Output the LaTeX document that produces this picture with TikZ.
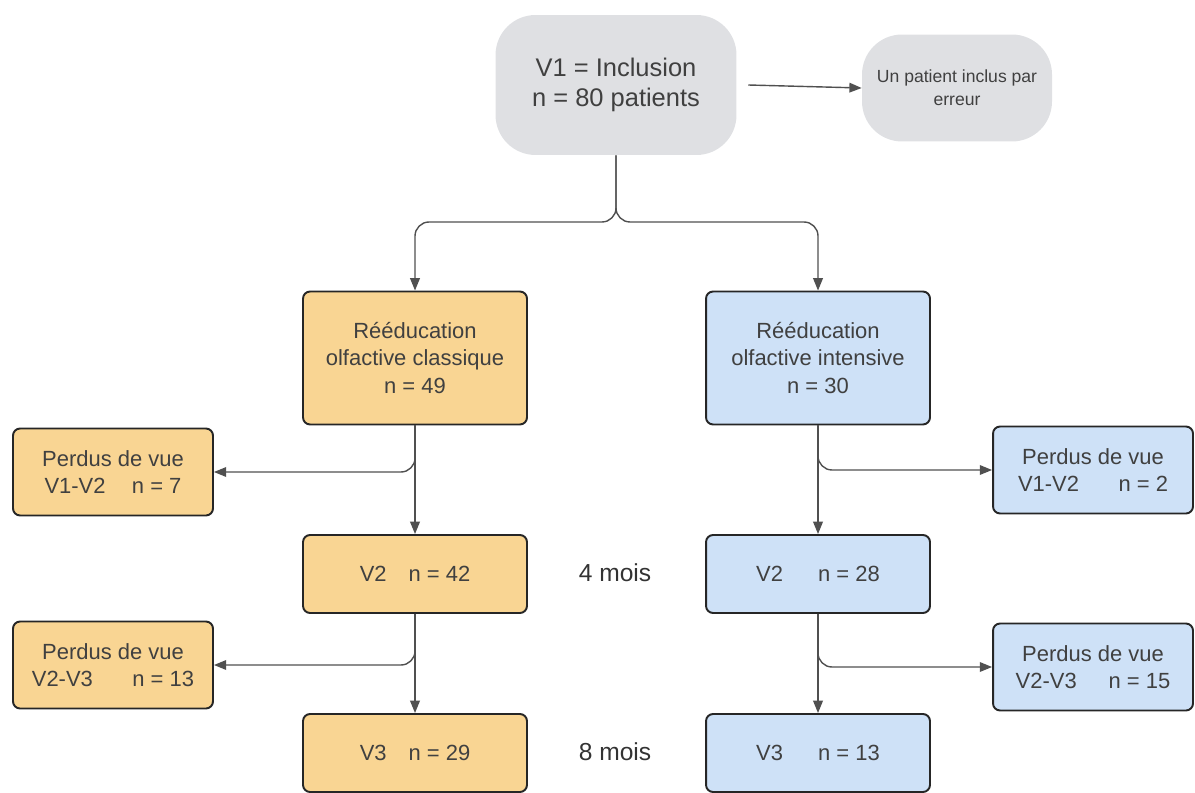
\documentclass[tikz,border=0pt]{standalone}
\usepackage{fontspec}
\setmainfont{Liberation Sans}
\usetikzlibrary{arrows.meta,positioning}
\definecolor{fondorange}{HTML}{F9D593}
\definecolor{fondbleu}{HTML}{CEE1F7}
\definecolor{fondgris}{HTML}{DFE0E3}
\definecolor{trait}{HTML}{505050}

\begin{document}
\begin{tikzpicture}[x=0.02cm,y=-0.02cm,
    boite/.style={draw=black!85,line width=1.1pt,rounded corners=4pt,align=center,
      text=black!75,inner sep=0pt,font=\fontsize{12.5}{15.5}\selectfont},
    boiteorange/.style={boite,fill=fondorange},
    boitebleue/.style={boite,fill=fondbleu},
    boitegrise/.style={fill=fondgris,rounded corners=0.8cm,align=center,text=black!75,inner sep=0pt},
    grande/.style={minimum width=4.48cm,minimum height=2.66cm},
    moyenne/.style={minimum width=4.48cm,minimum height=1.56cm},
    petite/.style={minimum width=4cm,minimum height=1.74cm},
    fleche/.style={draw=trait,line width=0.8pt,-{Triangle[length=7pt,width=5.5pt]}}]
  \useasboundingbox (0,0) rectangle (1195,793);
  \node[boitegrise,minimum width=4.82cm,minimum height=2.8cm,font=\fontsize{14.5}{17.5}\selectfont] (v1) at (616,85) {V1 = Inclusion\\n = 80 patients};
  \node[boitegrise,minimum width=3.8cm,minimum height=2.14cm,font=\fontsize{10}{13}\selectfont] (erreur) at (957,88) {Un patient inclus par\\erreur};
  \node[boiteorange,grande] (reeducc) at (415,358) {Rééducation\\olfactive classique\\n = 49};
  \node[boitebleue,grande] (reeduci) at (818,358) {Rééducation\\olfactive intensive\\n = 30};
  \node[boiteorange,petite] (perdusc1) at (113,472) {Perdus de vue\\V1-V2\hspace{1.2em}n = 7};
  \node[boiteorange,petite] (perdusc2) at (113,665) {Perdus de vue\\V2-V3\hspace{1.8em}n = 13};
  \node[boitebleue,petite] (perdusi1) at (1093,470) {Perdus de vue\\V1-V2\hspace{1.8em}n = 2};
  \node[boitebleue,petite] (perdusi2) at (1093,667) {Perdus de vue\\V2-V3\hspace{1.45em}n = 15};
  \node[boiteorange,moyenne] (v2c) at (415,574) {V2\hspace{1em}n = 42};
  \node[boitebleue,moyenne] (v2i) at (818,574) {V2\hspace{1.6em}n = 28};
  \node[boiteorange,moyenne] (v3c) at (415,753) {V3\hspace{1em}n = 29};
  \node[boitebleue,moyenne] (v3i) at (818,753) {V3\hspace{1.6em}n = 13};
  \node[font=\fontsize{14}{16}\selectfont,text=black!80] (mois4) at (615,573) {4 mois};
  \node[font=\fontsize{14}{16}\selectfont,text=black!80] (mois8) at (615,752) {8 mois};
  \coordinate (split) at (616,222);
  \draw[fleche] ([xshift=6.5pt]v1.east) -- (erreur.west);
  \draw[fleche,rounded corners=8pt] (v1.south) -- (split) -| (reeducc.north);
  \draw[fleche,rounded corners=8pt] (v1.south) -- (split) -| (reeduci.north);
  \draw[fleche,rounded corners=8pt] (reeducc.south) |- (perdusc1.east);
  \draw[fleche] (reeducc.south) -- (v2c.north);
  \draw[fleche,rounded corners=8pt] (v2c.south) |- (perdusc2.east);
  \draw[fleche] (v2c.south) -- (v3c.north);
  \draw[fleche,rounded corners=8pt] (reeduci.south) |- (perdusi1.west);
  \draw[fleche] (reeduci.south) -- (v2i.north);
  \draw[fleche,rounded corners=8pt] (v2i.south) |- (perdusi2.west);
  \draw[fleche] (v2i.south) -- (v3i.north);
\end{tikzpicture}
\end{document}
